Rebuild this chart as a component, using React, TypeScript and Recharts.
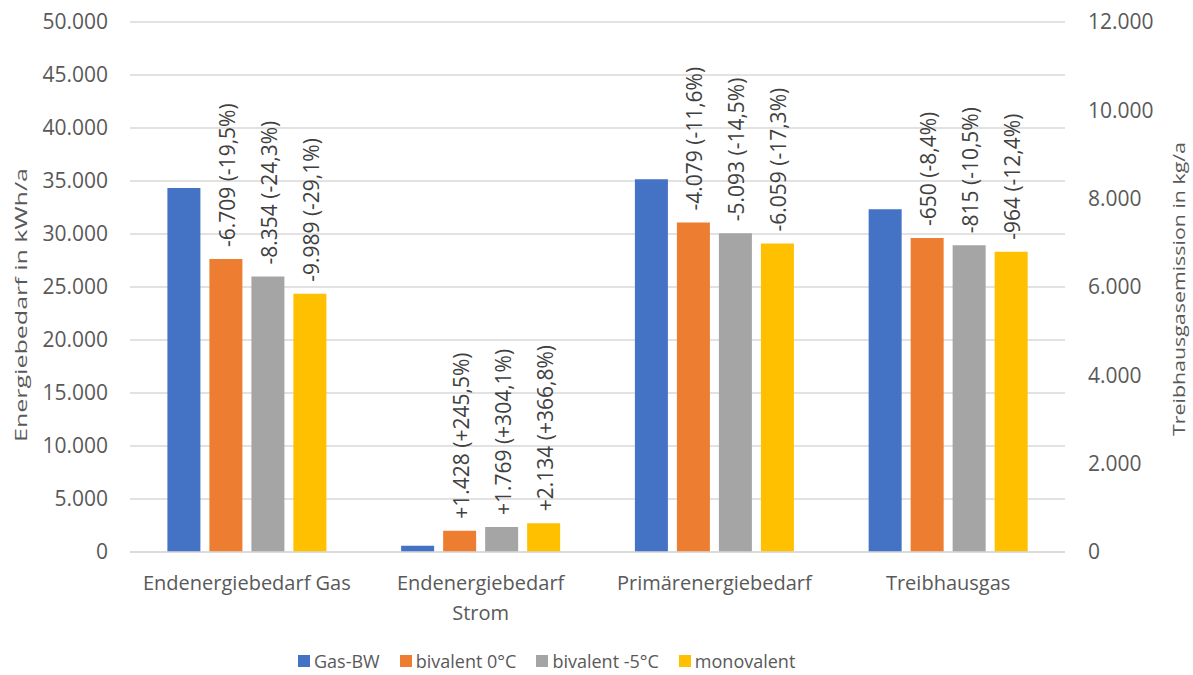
import { Bar, BarChart, CartesianGrid, LabelList, Legend, XAxis, YAxis } from "recharts";

const FONT = '"Open Sans", "Noto Sans", sans-serif';

const categories = ["Endenergiebedarf Gas", "Endenergiebedarf\nStrom", "Primärenergiebedarf", "Treibhausgas"];
const rightAxisCategory = "Treibhausgas";

const gasBW = [34343, 582, 35160, 7760];
const bivalent0 = [27634, 2010, 31081, 7110];
const bivalent5 = [25989, 2351, 30067, 6945];
const monovalent = [24354, 2716, 29101, 6796];

const bivalent0Labels = ["-6.709 (-19,5%)", "+1.428 (+245,5%)", "-4.079 (-11,6%)", "-650 (-8,4%)"];
const bivalent5Labels = ["-8.354 (-24,3%)", "+1.769 (+304,1%)", "-5.093 (-14,5%)", "-815 (-10,5%)"];
const monovalentLabels = ["-9.989 (-29,1%)", "+2.134 (+366,8%)", "-6.059 (-17,3%)", "-964 (-12,4%)"];

const leftTicks = [0, 5000, 10000, 15000, 20000, 25000, 30000, 35000, 40000, 45000, 50000];
const rightTicks = [0, 2000, 4000, 6000, 8000, 10000, 12000];

const series = [
  { key: "gas", name: "Gas-BW", color: "#4472C4", values: gasBW, labels: null as string[] | null },
  { key: "biv0", name: "bivalent 0°C", color: "#ED7D31", values: bivalent0, labels: bivalent0Labels },
  { key: "biv5", name: "bivalent -5°C", color: "#A5A5A5", values: bivalent5, labels: bivalent5Labels },
  { key: "mono", name: "monovalent", color: "#FFC000", values: monovalent, labels: monovalentLabels },
];

const data = categories.map((cat, i) => {
  const right = cat === rightAxisCategory;
  const row: Record<string, string | number> = { cat };
  series.forEach((s) => {
    row[right ? s.key + "R" : s.key] = s.values[i];
    if (s.labels) row[right ? s.key + "RLbl" : s.key + "Lbl"] = s.labels[i];
  });
  return row;
});

const de = (v: number) => String(v).replace(/\B(?=(\d{3})+(?!\d))/g, ".");

const CategoryTick = ({ x, y, payload }: any) => {
  const lines = String(payload.value).split("\n");
  return (
    <text x={x} y={y + 30} textAnchor="middle" fontSize={20} fill="#595959" fontFamily={FONT}>
      {lines.map((l, i) => (
        <tspan key={i} x={x} dy={i === 0 ? 0 : 30}>
          {l}
        </tspan>
      ))}
    </text>
  );
};

const BarLabel = ({ x, y, width, value }: any) => {
  if (value == null || value === "") return null;
  const cx = x + width / 2 + 1;
  const ty = y - 12;
  return (
    <text
      x={cx}
      y={ty}
      transform={`rotate(-90, ${cx}, ${ty})`}
      textAnchor="start"
      dominantBaseline="central"
      fontSize={21}
      fill="#404040"
      fontFamily={FONT}
    >
      {value}
    </text>
  );
};

const AxisTitle = ({ cx, cy, text, length }: any) => (
  <text
    x={cx}
    y={cy}
    transform={`rotate(-90, ${cx}, ${cy})`}
    textAnchor="middle"
    dominantBaseline="central"
    fontSize={17}
    fill="#595959"
    fontFamily={FONT}
    textLength={length}
    lengthAdjust="spacingAndGlyphs"
  >
    {text}
  </text>
);

// eigene Legende: nur die vier Varianten, nicht die Balken der rechten Achse
const LegendContent = () => (
  <div
    style={{
      height: 53,
      display: "flex",
      alignItems: "center",
      paddingTop: 24,
      paddingLeft: 298,
      boxSizing: "border-box",
      fontSize: 18,
      color: "#595959",
      fontFamily: FONT,
      whiteSpace: "nowrap",
    }}
  >
    {series.map((s) => (
      <div key={s.key} style={{ display: "flex", alignItems: "center", marginRight: 20, flexShrink: 0 }}>
        <span style={{ width: 12, height: 12, background: s.color, marginRight: 4, display: "inline-block" }} />
        <span>{s.name}</span>
      </div>
    ))}
  </div>
);

export default function App() {
  return (
    <div style={{ position: "absolute", left: 0, top: 0, width: 1193, height: 675, background: "#fff" }}>
      <BarChart
        width={1193}
        height={675}
        data={data}
        margin={{ top: 22, right: 0, bottom: 0, left: 0 }}
        barCategoryGap="16%"
        barGap={9}
        style={{ fontFamily: FONT }}
      >
        <CartesianGrid yAxisId="left" vertical={false} stroke="#D9D9D9" strokeWidth={1.3} />
        <XAxis
          dataKey="cat"
          height={70}
          tickLine={false}
          axisLine={{ stroke: "#D9D9D9", strokeWidth: 1.3 }}
          tick={<CategoryTick />}
          interval={0}
        />
        <YAxis
          yAxisId="left"
          width={130}
          domain={[0, 50000]}
          ticks={leftTicks}
          tickFormatter={de}
          axisLine={false}
          tickLine={false}
          tickSize={6}
          tickMargin={16}
          tick={{ fontSize: 21, fill: "#595959" }}
          label={<AxisTitle cx={20} cy={305} text="Energiebedarf in kWh/a" length={274} />}
        />
        <YAxis
          yAxisId="right"
          orientation="right"
          width={128}
          domain={[0, 12000]}
          ticks={rightTicks}
          tickFormatter={de}
          axisLine={false}
          tickLine={false}
          tickSize={6}
          tickMargin={17}
          tick={{ fontSize: 21, fill: "#595959", textAnchor: "start" }}
          label={<AxisTitle cx={1178} cy={289} text="Treibhausgasemission  in kg/a" length={294} />}
        />
        <Legend verticalAlign="bottom" content={<LegendContent />} wrapperStyle={{ left: 0, width: 1193 }} />
        {series.flatMap((s, i) => [
          <Bar
            key={s.key}
            yAxisId="left"
            dataKey={s.key}
            name={s.name}
            fill={s.color}
            stackId={"s" + i}
            isAnimationActive={false}
          >
            {s.labels && <LabelList dataKey={s.key + "Lbl"} content={<BarLabel />} />}
          </Bar>,
          <Bar
            key={s.key + "R"}
            yAxisId="right"
            dataKey={s.key + "R"}
            name={s.name}
            fill={s.color}
            stackId={"s" + i}
            legendType="none"
            isAnimationActive={false}
          >
            {s.labels && <LabelList dataKey={s.key + "RLbl"} content={<BarLabel />} />}
          </Bar>,
        ])}
      </BarChart>
    </div>
  );
}
